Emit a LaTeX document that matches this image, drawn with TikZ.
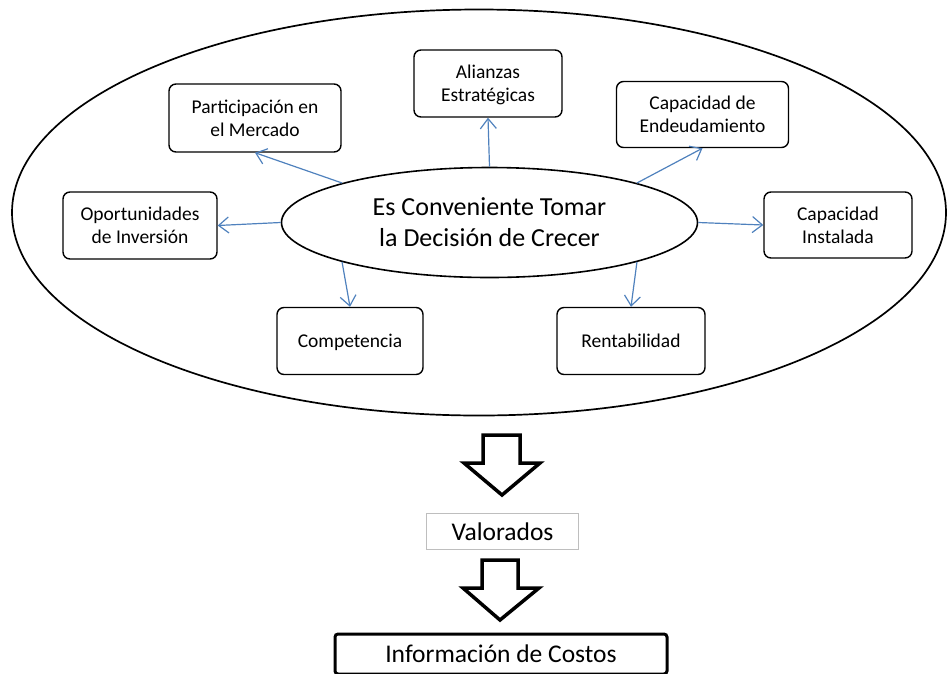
\documentclass[tikz,border=0pt]{standalone}
\usepackage{fontspec}
\setmainfont{Carlito}
\usetikzlibrary{arrows.meta,shapes.geometric}
\definecolor{linkblue}{RGB}{79,129,189}
\definecolor{greyframe}{RGB}{190,190,190}
\tikzset{
  factor/.style={draw=black, line width=1.4pt, rounded corners=7pt, inner sep=0pt,
    align=center, font=\fontsize{19.5}{23}\selectfont, text depth=0pt},
  link/.style={draw=linkblue, line width=1.2pt, -{Straight Barb[length=10pt,width=16pt,line width=1.2pt]}},
  blockarrow/.style={draw=black, line width=3.5pt, line join=miter, fill=white},
}
\begin{document}
\begin{tikzpicture}[x=1pt,y=-1pt]
\useasboundingbox (0,0) rectangle (947,673);
% outer ellipse
\draw[line width=1.7pt] (479,212.5) ellipse [x radius=467, y radius=203];
% central ellipse
\node[draw, ellipse, line width=1.6pt, minimum width=416pt, minimum height=110pt, inner sep=0pt,
      align=center, font=\fontsize{26}{31}\selectfont] (c) at (489.5,222.5)
      {Es Conveniente Tomar\\la Decisión de Crecer};
% factor boxes
\node[factor, minimum width=148pt, minimum height=67pt] (ali) at (488,83.5) {Alianzas\\Estratégicas};
\node[factor, minimum width=172pt, minimum height=68pt] (par) at (255,118) {Participación en\\el Mercado};
\node[factor, minimum width=172pt, minimum height=66pt] (end) at (702.5,114.5) {Capacidad de\\Endeudamiento};
\node[factor, minimum width=154pt, minimum height=67pt] (opo) at (140,225.5) {Oportunidades\\de Inversión};
\node[factor, minimum width=148pt, minimum height=66pt] (ins) at (838,225) {Capacidad\\Instalada};
\node[factor, minimum width=146pt, minimum height=67pt] (com) at (350,341) {Competencia};
\node[factor, minimum width=148pt, minimum height=67pt] (ren) at (631,341) {Rentabilidad};
% connectors
\draw[link] (c.90) -- (ali.south);
\draw[link] (c.165) -- (par.south);
\draw[link] (c.15) -- (end.south);
\draw[link] (c.180) -- (opo.east);
\draw[link] (c.0) -- (ins.west);
\draw[link] (c.195) -- (com.north);
\draw[link] (c.345) -- (ren.north);
% lower chain
\node[draw=greyframe, line width=1.5pt, minimum width=152pt, minimum height=36pt, inner sep=0pt,
      font=\fontsize{25.5}{30}\selectfont] (val) at (502.5,531.5) {Valorados};
\node[draw=black, line width=3pt, rounded corners=3pt, minimum width=332pt, minimum height=40pt, inner sep=0pt,
      font=\fontsize{25.5}{30}\selectfont] (inf) at (501,654) {Información de Costos};
% block arrows
\draw[blockarrow] (483,435) -- (520,435) -- (520,463) -- (540,463) -- (502,495) -- (464,463) -- (483,463) -- cycle;
\draw[blockarrow] (482,560) -- (518,560) -- (518,588) -- (539,588) -- (500,620) -- (463,588) -- (482,588) -- cycle;
\end{tikzpicture}
\end{document}
